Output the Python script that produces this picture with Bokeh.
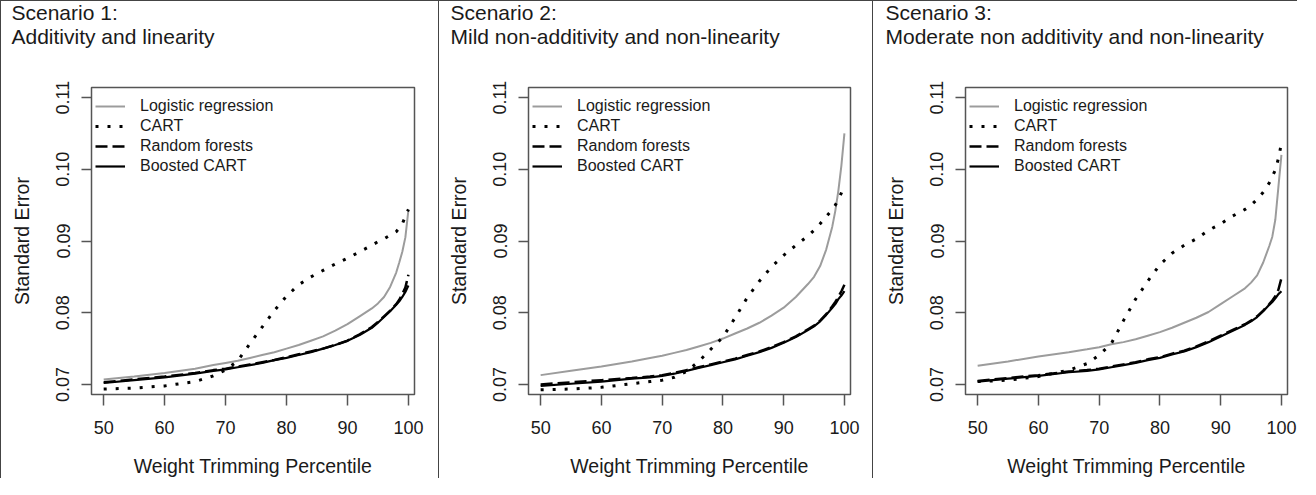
from bokeh.plotting import figure
from bokeh.models import Label, Legend, LegendItem, FixedTicker, Range1d
from bokeh.layouts import row
from bokeh.embed import file_html
from bokeh.resources import INLINE

# ---------------- data ----------------
PCT = [50, 55, 60, 65, 68, 70, 72, 74, 76, 78, 80, 82, 84, 86, 88, 90,
       92, 94, 95, 96, 97, 98, 98.5, 99, 99.5, 100]

X_TICKS = [50, 60, 70, 80, 90, 100]
Y_TICKS = [0.07, 0.08, 0.09, 0.10, 0.11]
Y_TICK_LABELS = ["0.07", "0.08", "0.09", "0.10", "0.11"]

SERIES_NAMES = ["Logistic regression", "CART", "Random forests", "Boosted CART"]

TITLE_LINE1 = ["Scenario 1:", "Scenario 2:", "Scenario 3:"]
TITLE_LINE2 = ["Additivity and linearity",
               "Mild non-additivity and non-linearity",
               "Moderate non additivity and non-linearity"]

S1_LR = [.0707, .0711, .0716, .0722, .0727, .0730, .0733, .0737, .0741, .0745, .0750, .0755, .0761,
         .0767, .0775, .0784, .0795, .0806, .0813, .0822, .0836, .0856, .0870, .0885, .0905, .0943]
S1_CART = [.06936, .0695, .0698, .0704, .0712, .0720, .0733, .0757, .0780, .0803, .0823, .0839, .0850,
           .0859, .0868, .0876, .0885, .0894, .0899, .0903, .0908, .0913, .0918, .0924, .0934, .0944]
S1_RF = [.0703, .0707, .0711, .0716, .0720, .0722, .0725, .0728, .0731, .0734, .0738, .0742, .0746,
         .0750, .0755, .0761, .0770, .0780, .0787, .0795, .0803, .0812, .0818, .0826, .0835, .0853]
S1_BC = [.0702, .0706, .0710, .0715, .0719, .0721, .0724, .0727, .0730, .0734, .0737, .0741, .0745,
         .0750, .0755, .0761, .0769, .0779, .0786, .0794, .0802, .0811, .0816, .0822, .0829, .0838]

S2_LR = [.0713, .0719, .0725, .0732, .0737, .0740, .0744, .0748, .0753, .0758, .0764, .0771, .0778,
         .0786, .0796, .0807, .0822, .0840, .0850, .0865, .0888, .0920, .0942, .0970, .1005, .1050]
S2_CART = [.06927, .06936, .0696, .0701, .0704, .0706, .0710, .0718, .0732, .0749, .0766, .0793, .0821,
           .0844, .0864, .0880, .0894, .0907, .0915, .0924, .0934, .0944, .0950, .0958, .0967, .0979]
S2_RF = [.0700, .0703, .0706, .0709, .0711, .0713, .0716, .0720, .0724, .0728, .0732, .0736, .0741,
         .0746, .0752, .0759, .0767, .0777, .0782, .0789, .0798, .0809, .0815, .0822, .0830, .0839]
S2_BC = [.0698, .0701, .0704, .0708, .0710, .0712, .0715, .0719, .0723, .0727, .0731, .0735, .0740,
         .0745, .0751, .0758, .0766, .0776, .0781, .0788, .0797, .0807, .0812, .0819, .0824, .0830]

S3_LR = [.0726, .0732, .0739, .0745, .0749, .0752, .0756, .0759, .0763, .0768, .0773, .0779, .0786,
         .0793, .0801, .0812, .0823, .0834, .0842, .0852, .0870, .0893, .0906, .0930, .0975, .1020]
S3_CART = [.0704, .0706, .0711, .0720, .0729, .0741, .0757, .0789, .0819, .0844, .0867, .0883, .0894,
           .0903, .0915, .0924, .0935, .0944, .0950, .0958, .0968, .0981, .0990, .0999, .1015, .1036]
S3_RF = [.0705, .0709, .0713, .0718, .0720, .0722, .0725, .0728, .0731, .0735, .0738, .0743, .0747,
         .0753, .0760, .0768, .0776, .0784, .0789, .0795, .0803, .0812, .0817, .0823, .0832, .0848]
S3_BC = [.0704, .0708, .0712, .0717, .0719, .0721, .0724, .0727, .0730, .0734, .0737, .0742, .0746,
         .0752, .0759, .0767, .0775, .0783, .0788, .0794, .0802, .0811, .0815, .0820, .0826, .0830]

PANEL_DATA = [(S1_LR, S1_CART, S1_RF, S1_BC),
              (S2_LR, S2_CART, S2_RF, S2_BC),
              (S3_LR, S3_CART, S3_RF, S3_BC)]

# ---------------- styling / layout ----------------
FONT = "Liberation Sans"
TXT = "#1a1a1a"
BOX = "#555555"
GRAY = "#9c9c9c"

PANEL_W = [438, 434, 425]
BORDER_L = [90, 89, 92]
BORDER_R = [25, 23, 11]
TITLE_DX = [-80, -78, -80]
FIG_H = 478


def make_panel(i):
    lr, cart, rf, bc = PANEL_DATA[i]
    p = figure(width=PANEL_W[i], height=FIG_H,
               x_range=Range1d(48.0, 101.0), y_range=Range1d(0.0686, 0.1114),
               output_backend="svg", toolbar_location=None,
               min_border_left=BORDER_L[i], min_border_right=BORDER_R[i],
               min_border_top=86, min_border_bottom=81,
               background_fill_color="white", border_fill_color="white",
               styles={"border-left": "1px solid #444", "border-top": "1px solid #444"})
    p.grid.visible = False
    p.outline_line_color = BOX
    p.outline_line_width = 1.5

    r_lr = p.line(PCT, lr, line_color=GRAY, line_width=2)
    r_cart = p.line(PCT, cart, line_color="black", line_width=3, line_dash="3 9")
    r_rf = p.line(PCT, rf, line_color="black", line_width=2.5, line_dash="12 5")
    r_bc = p.line(PCT, bc, line_color="black", line_width=2.2)

    # x axis
    xa = p.xaxis[0]
    xa.ticker = FixedTicker(ticks=X_TICKS)
    xa.axis_line_color = None
    xa.major_tick_line_color = BOX
    xa.major_tick_line_width = 1.5
    xa.major_tick_out = 11
    xa.major_tick_in = 0
    xa.minor_tick_line_color = None
    xa.major_label_text_font = FONT
    xa.major_label_text_font_size = "18px"
    xa.major_label_text_color = TXT
    xa.major_label_standoff = 15
    xa.axis_label = "Weight Trimming Percentile"
    xa.axis_label_text_font = FONT
    xa.axis_label_text_font_size = "19.5px"
    xa.axis_label_text_font_style = "normal"
    xa.axis_label_text_color = TXT
    xa.axis_label_standoff = 18

    # y axis
    ya = p.yaxis[0]
    ya.ticker = FixedTicker(ticks=Y_TICKS)
    ya.major_label_overrides = {t: s for t, s in zip(Y_TICKS, Y_TICK_LABELS)}
    ya.major_label_orientation = "vertical"
    ya.axis_line_color = None
    ya.major_tick_line_color = BOX
    ya.major_tick_line_width = 1.5
    ya.major_tick_out = 10
    ya.major_tick_in = 0
    ya.minor_tick_line_color = None
    ya.major_label_text_font = FONT
    ya.major_label_text_font_size = "18px"
    ya.major_label_text_color = TXT
    ya.major_label_standoff = 12
    ya.axis_label = "Standard Error"
    ya.axis_label_text_font = FONT
    ya.axis_label_text_font_size = "19.5px"
    ya.axis_label_text_font_style = "normal"
    ya.axis_label_text_color = TXT
    ya.axis_label_standoff = 21

    legend = Legend(items=[LegendItem(label=SERIES_NAMES[0], renderers=[r_lr]),
                           LegendItem(label=SERIES_NAMES[1], renderers=[r_cart]),
                           LegendItem(label=SERIES_NAMES[2], renderers=[r_rf]),
                           LegendItem(label=SERIES_NAMES[3], renderers=[r_bc])],
                    location=(4, 218), padding=0, margin=0, spacing=0,
                    glyph_width=30, glyph_height=20, label_height=20, label_standoff=15,
                    label_text_font=FONT, label_text_font_size="16px", label_text_color=TXT,
                    border_line_color=None, background_fill_alpha=0)
    p.add_layout(legend)

    # two title lines in the "above" side panel (first added is nearest the frame)
    for txt, yy in ((TITLE_LINE2[i], 51.5), (TITLE_LINE1[i], 52)):
        p.add_layout(Label(x=TITLE_DX[i], y=yy, x_units="screen", y_units="screen", text=txt,
                           text_font=FONT, text_font_size="21px", text_color=TXT,
                           text_align="left", text_baseline="middle"), "above")
    return p


layout = row(*[make_panel(i) for i in range(3)])
open("out.html", "w").write(file_html(layout, INLINE))
